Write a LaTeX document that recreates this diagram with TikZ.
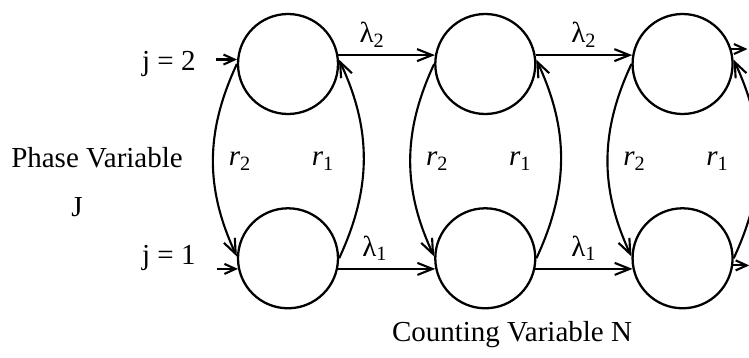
\documentclass[tikz,border=0pt]{standalone}
\usepackage{fontspec}
\setmainfont{Liberation Serif}
\usetikzlibrary{arrows.meta, positioning, calc}

\begin{document}
\begin{tikzpicture}[
    state/.style={circle, draw, line width=1.3pt, minimum size=2cm, inner sep=0pt},
    lbl/.style={inner sep=0pt, font=\fontsize{16.5}{19}\selectfont},
    tarrow/.style={-{Straight Barb[length=3mm, width=2.4mm]}, line width=1.2pt},
    sarrow/.style={-{Straight Barb[length=2.2mm, width=2mm]}, line width=1.2pt}
]
\useasboundingbox (0,0) rectangle (14.98,-7.16);
% states: column = counting variable, last digit = phase
\node[state] (s12) at (5.76,-1.28) {};
\node[state, right=1.9cm of s12] (s22) {};
\node[state, right=1.9cm of s22] (s32) {};
\node[state, below=1.84cm of s12] (s11) {};
\node[state, right=1.9cm of s11] (s21) {};
\node[state, right=1.9cm of s21] (s31) {};
% counting transitions
\draw[tarrow] (s12.10) -- node[lbl, above=4pt, pos=.35] {λ\textsubscript{2}} (s22.170);
\draw[tarrow] (s22.10) -- node[lbl, above=4pt, pos=.5] {λ\textsubscript{2}} (s32.170);
\draw[tarrow] (s11.-12) -- node[lbl, above=4pt, pos=.38] {λ\textsubscript{1}} (s21.192);
\draw[tarrow] (s21.-12) -- node[lbl, above=4pt, pos=.5] {λ\textsubscript{1}} (s31.192);
% phase changes
\foreach \c in {1,2,3} {
    \draw[tarrow] (s\c2.west) to[bend right=25] (s\c1.178);
    \draw[tarrow] (s\c1.east) to[bend right=25] (s\c2.5);
    \node[lbl] at ($(s\c2)!.5!(s\c1)+(-0.96,0)$) {\textit{r}\textsubscript{2}};
    \node[lbl] at ($(s\c2)!.5!(s\c1)+(0.7,0)$) {\textit{r}\textsubscript{1}};
}
% open ends
\coordinate[left=0.42cm of s12.175] (in2);
\coordinate[left=0.42cm of s11.192] (in1);
\coordinate[right=0.32cm of s32.17] (out2);
\coordinate[right=0.32cm of s31.-8] (out1);
\draw[sarrow] (in2) -- (s12.175);
\draw[sarrow] (in1) -- (s11.192);
\draw[sarrow] (s32.17) -- (out2);
\draw[sarrow] (s31.-8) -- (out1);
% axis labels
\node[lbl, left=0.82cm of s12] (jtwo) {j = 2};
\node[lbl, left=0.82cm of s11] (jone) {j = 1};
\node[lbl] (phase) at (1.94,-3.16) {Phase Variable};
\node[lbl] (jvar) at (1.54,-4.14) {J};
\node[lbl] (count) at (10.24,-6.7) {Counting Variable N};
\end{tikzpicture}
\end{document}
